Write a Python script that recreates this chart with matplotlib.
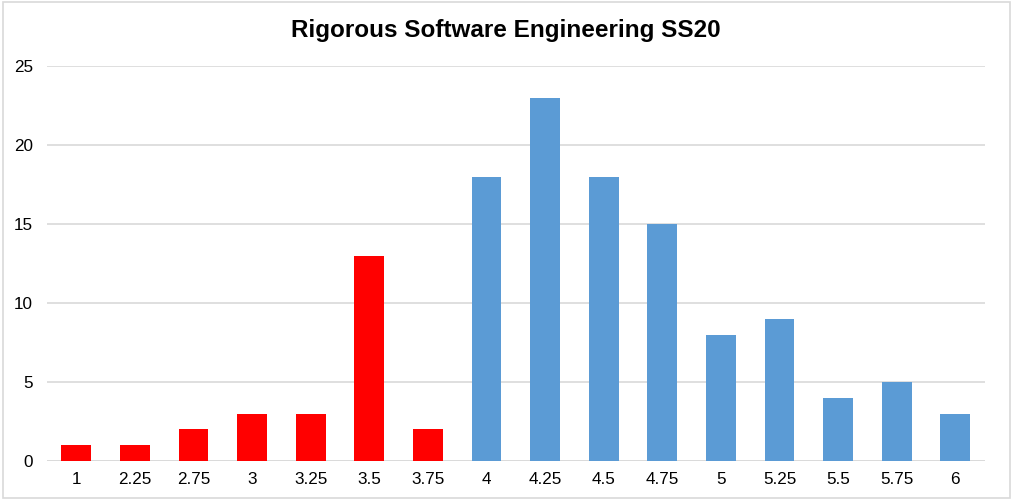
import matplotlib
matplotlib.use("Agg")
import matplotlib.pyplot as plt
from matplotlib.patches import Rectangle

plt.rcParams['font.family'] = ['Liberation Sans', 'DejaVu Sans']

# grades and number of students
grades = ['1', '2.25', '2.75', '3', '3.25', '3.5', '3.75', '4',
          '4.25', '4.5', '4.75', '5', '5.25', '5.5', '5.75', '6']
counts = [1, 1, 2, 3, 3, 13, 2, 18, 23, 18, 15, 8, 9, 4, 5, 3]
passed = [False] * 7 + [True] * 9

RED = '#ff0000'
BLUE = '#5b9bd5'

fig = plt.figure(figsize=(10.13, 5.0), dpi=100)
ax = fig.add_axes([0.0464, 0.078, 0.9256, 0.79])

colors = [BLUE if p else RED for p in passed]
x = list(range(len(grades)))
ax.bar(x, counts, width=0.51, color=colors, edgecolor='none', zorder=3)

ax.set_xlim(-0.5, len(grades) - 0.5)
ax.set_ylim(0, 25)
ax.set_yticks([0, 5, 10, 15, 20, 25])
ax.set_xticks(x)
ax.set_xticklabels(grades)
ax.yaxis.grid(True, color='#d9d9d9', linewidth=1.2, zorder=0)
ax.tick_params(axis='both', length=0, labelsize=12.3, colors='#000000')
ax.tick_params(axis='y', pad=10)
ax.tick_params(axis='x', pad=8)
for s in ax.spines.values():
    s.set_visible(False)
ax.axhline(0, color='#d9d9d9', linewidth=1.2, zorder=2)

fig.text(0.499, 0.94, 'Rigorous Software Engineering SS20', ha='center',
         va='center', fontsize=17.5, fontweight='bold')

# light border around the chart area
fig.patches.append(Rectangle((0.003, 0.004), 0.994, 0.992, transform=fig.transFigure,
                             fill=False, edgecolor='#d9d9d9', linewidth=1.2))

fig.savefig('out.png', dpi=100)
